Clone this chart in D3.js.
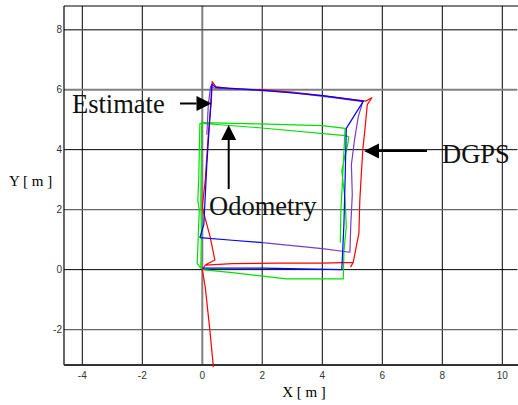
<!DOCTYPE html>
<html>
<head>
<meta charset="utf-8">
<script src="https://cdn.jsdelivr.net/npm/d3@7"></script>
<style>
  body { margin: 0; background: #fff; }
  svg { display: block; }
</style>
</head>
<body>
<div id="chart"></div>
<script>
// --- data (metres) ---
const xTicks = [-4, -2, 0, 2, 4, 6, 8, 10];
const yTicks = [-2, 0, 2, 4, 6, 8];

// DGPS track (red)
const dgps = [
  [0.37, -3.25], [0.25, -2.0], [0.1, -0.6], [0.0, 0.0], [0.1, 0.15], [1.0, 0.2], [2.5, 0.22],
  [4.0, 0.22], [5.03, 0.24], [4.95, 0.1], [5.03, 0.24], [5.22, 1.22], [5.25, 2.3], [5.29, 3.0],
  [5.35, 4.0], [5.42, 4.66], [5.5, 5.5], [5.65, 5.73], [5.45, 5.62], [4.0, 5.8], [3.0, 5.92],
  [2.0, 6.0], [1.0, 6.02], [0.45, 6.1], [0.33, 6.27], [0.3, 5.6], [0.2, 4.5], [0.1, 3.0],
  [0.0, 2.1], [0.05, 1.88], [0.26, 1.1], [0.42, 0.32], [0.11, 0.16]
];

// Estimate track, second lap (purple where it overlays DGPS)
const estimateLap2 = [
  [2.0, 0.9], [3.0, 0.8], [4.0, 0.7], [4.92, 0.58], [4.95, 1.5], [5.0, 2.5], [4.97, 3.5],
  [5.07, 4.3], [5.2, 5.1], [5.35, 5.6], [4.5, 5.72], [3.0, 5.9], [1.5, 6.0], [0.4, 6.05],
  [0.28, 6.12], [0.2, 5.5], [0.15, 4.5]
];

// Estimate track (blue)
const estimate = [
  [0.0, 0.05], [2.0, 0.05], [4.65, 0.0], [4.72, 1.5], [4.76, 3.0], [4.8, 4.71], [5.37, 5.62],
  [4.0, 5.8], [2.0, 5.98], [0.45, 6.08], [0.32, 6.18], [0.28, 5.5], [0.15, 3.5], [0.05, 1.5],
  [-0.08, 1.07], [1.0, 0.98], [2.0, 0.9]
];

// Odometry track (green)
const odometry = [
  [0.0, 0.0], [1.0, -0.1], [2.8, -0.31], [4.7, -0.31], [4.72, 0.6], [4.8, 1.43], [4.76, 2.32],
  [4.65, 3.3], [4.76, 3.8], [4.85, 4.2], [4.88, 4.43], [4.76, 4.47], [1.9, 4.73], [-0.08, 4.88],
  [-0.12, 3.0], [-0.15, 2.3], [-0.1, 2.0], [-0.17, 0.2], [-0.05, 0.05], [-0.03, 1.2],
  [-0.05, 2.3], [-0.02, 4.9], [1.9, 4.86], [4.0, 4.8], [4.76, 4.71], [4.7, 3.5], [4.62, 2.0],
  [4.6, 0.9]
];

// 1. size + scales
const width = 518, height = 405;
const x = d3.scaleLinear().domain([-4.61, 10.5]).range([64, 517.3]);
const y = d3.scaleLinear().domain([-3.18, 8.79]).range([365, 6]);

const svg = d3.select('#chart').append('svg')
  .attr('width', width)
  .attr('height', height);

// 2. grid lines (some render grey in the original)
const vStyle = { '0': ['#808080', 2], '2': ['#555', 1.4] };
const hStyle = { '8': ['#555', 1.4], '6': ['#808080', 2], '2': ['#666', 1.4], '-2': ['#666', 1.4] };

svg.append('g').selectAll('line')
  .data(xTicks).enter().append('line')
  .attr('x1', d => x(d)).attr('x2', d => x(d))
  .attr('y1', y.range()[1]).attr('y2', y.range()[0])
  .attr('stroke', d => (vStyle[d] || ['#000'])[0])
  .attr('stroke-width', d => (vStyle[d] || [0, 1])[1]);

svg.append('g').selectAll('line')
  .data(yTicks).enter().append('line')
  .attr('x1', x.range()[0]).attr('x2', x.range()[1])
  .attr('y1', d => y(d)).attr('y2', d => y(d))
  .attr('stroke', d => (hStyle[d] || ['#000'])[0])
  .attr('stroke-width', d => (hStyle[d] || [0, 1])[1]);

// 3. frame
svg.append('line').attr('x1', 64).attr('x2', 518).attr('y1', y.range()[1]).attr('y2', y.range()[1])
  .attr('stroke', '#000').attr('stroke-width', 1);
svg.append('line').attr('x1', 64).attr('x2', 64).attr('y1', y.range()[1]).attr('y2', y.range()[0])
  .attr('stroke', '#000').attr('stroke-width', 1.2);
svg.append('line').attr('x1', 64).attr('x2', 518).attr('y1', y.range()[0]).attr('y2', y.range()[0])
  .attr('stroke', '#333').attr('stroke-width', 2);

// 4. tick labels
svg.append('g').selectAll('text')
  .data(xTicks).enter().append('text')
  .attr('x', d => x(d))
  .attr('y', 379)
  .attr('text-anchor', 'middle')
  .attr('font-family', 'Liberation Sans, Arial, sans-serif')
  .attr('font-size', 10)
  .attr('fill', '#333')
  .text(d => d);

svg.append('g').selectAll('text')
  .data(yTicks).enter().append('text')
  .attr('x', 62)
  .attr('y', d => y(d) + 3.5)
  .attr('text-anchor', 'end')
  .attr('font-family', 'Liberation Sans, Arial, sans-serif')
  .attr('font-size', 10)
  .attr('fill', '#333')
  .text(d => d);

// 5. axis titles
svg.append('text').attr('x', 304).attr('y', 397).attr('text-anchor', 'middle')
  .attr('font-family', 'Liberation Serif, Times New Roman, serif').attr('font-size', 15)
  .text('X [ m ]');
svg.append('text').attr('x', 9).attr('y', 186)
  .attr('font-family', 'Liberation Serif, Times New Roman, serif').attr('font-size', 15)
  .text('Y [ m ]');

// 6. tracks
const line = d3.line().x(d => x(d[0])).y(d => y(d[1]));
const tracks = [
  { data: odometry, color: '#00e000' },
  { data: dgps, color: '#ff0000' },
  { data: estimateLap2, color: '#7a3cc8' },
  { data: estimate, color: '#0000ff' }
];
svg.append('g').selectAll('path')
  .data(tracks).enter().append('path')
  .attr('d', d => line(d.data))
  .attr('fill', 'none')
  .attr('stroke', d => d.color)
  .attr('stroke-width', 1.2)
  .attr('stroke-linejoin', 'round');

// 7. annotations with arrows
const serif = 'Liberation Serif, Times New Roman, serif';
const notes = [
  { label: 'Estimate', tx: 72, ty: 113, from: [180, 103.5], to: [211.5, 103.5] },
  { label: 'Odometry', tx: 209, ty: 215, from: [228.7, 189], to: [228.7, 125] },
  { label: 'DGPS', tx: 442, ty: 163, from: [427, 151], to: [364, 151] }
];

notes.forEach(n => {
  svg.append('text').attr('x', n.tx).attr('y', n.ty)
    .attr('font-family', serif).attr('font-size', 26.5).attr('fill', '#111')
    .text(n.label);

  const dx = n.to[0] - n.from[0], dy = n.to[1] - n.from[1];
  const len = Math.hypot(dx, dy), ux = dx / len, uy = dy / len;
  const headL = 15, headW = 7.5;
  const bx = n.to[0] - ux * headL, by = n.to[1] - uy * headL;
  svg.append('line')
    .attr('x1', n.from[0]).attr('y1', n.from[1])
    .attr('x2', bx).attr('y2', by)
    .attr('stroke', '#000').attr('stroke-width', 2);
  svg.append('path')
    .attr('d', `M${n.to[0]},${n.to[1]}L${bx - uy * headW},${by + ux * headW}L${bx + uy * headW},${by - ux * headW}Z`)
    .attr('fill', '#000');
});
</script>
</body>
</html>
